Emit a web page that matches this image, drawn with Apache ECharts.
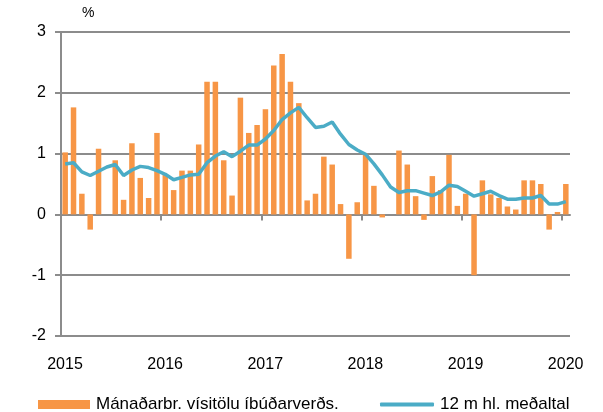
<!DOCTYPE html>
<html>
<head>
<meta charset="utf-8">
<script src="https://cdn.jsdelivr.net/npm/echarts@6/dist/echarts.min.js"></script>
<style>
  html, body { margin: 0; padding: 0; background: #fff; }
  #main { width: 603px; height: 412px; }
</style>
</head>
<body>
<div id="main"></div>
<script>
// mánaðarbreyting, jan 2015 - jan 2020
const monthly = [
  1.02, 1.76, 0.34, -0.25, 1.08, 0.0, 0.89, 0.24, 1.17, 0.60, 0.27, 1.34,
  0.65, 0.40, 0.72, 0.72, 1.15, 2.18, 2.18, 0.89, 0.31, 1.92, 1.34, 1.47,
  1.73, 2.45, 2.64, 2.18, 1.83, 0.23, 0.34, 0.95, 0.82, 0.17, -0.73, 0.20,
  1.00, 0.47, -0.05, 0.0, 1.05, 0.82, 0.30, -0.09, 0.63, 0.40, 0.98, 0.14,
  0.34, -1.00, 0.56, 0.33, 0.27, 0.13, 0.08, 0.56, 0.56, 0.50, -0.25, 0.04,
  0.50
];
// 12 mánaða meðaltal
const avg12 = [
  0.83, 0.85, 0.70, 0.64, 0.71, 0.78, 0.82, 0.64, 0.73, 0.79, 0.77, 0.72,
  0.66, 0.57, 0.61, 0.65, 0.66, 0.85, 0.96, 1.03, 0.95, 1.04, 1.14, 1.14,
  1.24, 1.38, 1.56, 1.67, 1.76, 1.59, 1.43, 1.45, 1.52, 1.32, 1.15, 1.06,
  0.99, 0.83, 0.65, 0.45, 0.36, 0.39, 0.39, 0.35, 0.31, 0.37, 0.48, 0.46,
  0.38, 0.30, 0.34, 0.38, 0.31, 0.25, 0.25, 0.27, 0.27, 0.31, 0.17, 0.17,
  0.21
];
const years = [2015, 2016, 2017, 2018, 2019, 2020];
const yTicks = [-2, -1, 0, 1, 2, 3];

const startYear = years[0];
const yearTicks = years.map(y => (y - startYear) * 12);
const barData = monthly.map((v, i) => [i + 0.5, v]);
const lineData = avg12.map((v, i) => [i + 0.5, v]);

const gray = "#8c8c8c";
const font = "Liberation Sans";

let myChart = echarts.init(document.getElementById("main"));
let option = {
  animation: false,
  textStyle: { fontFamily: font },
  grid: { left: 61, right: 33, top: 32, bottom: 76 },
  graphic: [
    { type: "text", left: 82, top: 6, style: { text: "%", font: "14px " + font, fill: "#000" } }
  ],
  legend: [
    {
      data: ["Mánaðarbr. vísitölu íbúðarverðs."],
      left: 33, top: 391,
      itemWidth: 52, itemHeight: 9, icon: "rect",
      textStyle: { fontSize: 17, color: "#000", padding: [0, 0, 0, 1] }
    },
    {
      data: ["12 m hl. meðaltal"],
      left: 375, top: 391,
      itemWidth: 54, itemHeight: 4, icon: "roundRect",
      textStyle: { fontSize: 17, color: "#000", padding: [0, 0, 0, 1] }
    }
  ],
  xAxis: [
    {
      type: "value", min: 0, max: monthly.length,
      axisLine: { onZero: true, lineStyle: { color: gray, width: 2 } },
      axisTick: { customValues: yearTicks, length: 6, lineStyle: { color: gray, width: 2 } },
      axisLabel: { show: false },
      splitLine: { show: false }
    },
    {
      type: "value", min: 0, max: monthly.length, position: "bottom",
      axisLine: { show: false, onZero: false },
      axisTick: { show: false },
      axisLabel: {
        customValues: yearTicks, margin: 21, fontSize: 16, color: "#000",
        padding: [0, 0, 0, 8],
        formatter: v => String(startYear + v / 12)
      },
      splitLine: { show: false }
    }
  ],
  yAxis: {
    type: "value", min: yTicks[0], max: yTicks[yTicks.length - 1], interval: 1,
    axisLine: { show: true, lineStyle: { color: gray, width: 2 } },
    axisTick: { show: true, length: 6, lineStyle: { color: gray, width: 2 } },
    axisLabel: { margin: 15, fontSize: 16, color: "#000" },
    splitLine: { lineStyle: { color: gray, width: 2 } }
  },
  series: [
    {
      name: "Mánaðarbr. vísitölu íbúðarverðs.",
      type: "bar",
      xAxisIndex: 0,
      barWidth: 5.5,
      itemStyle: { color: "#F79646" },
      data: barData
    },
    {
      name: "12 m hl. meðaltal",
      type: "line",
      xAxisIndex: 0,
      symbol: "none",
      lineStyle: { color: "#4BACC6", width: 3.5 },
      itemStyle: { color: "#4BACC6" },
      data: lineData
    }
  ]
};
myChart.setOption(option);
</script>
</body>
</html>
